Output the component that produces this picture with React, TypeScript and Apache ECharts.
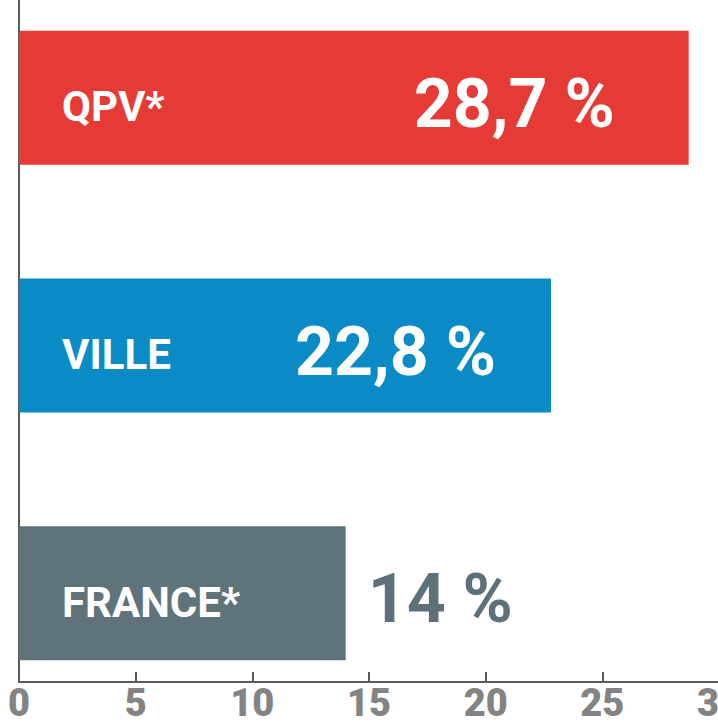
import React, { useEffect, useRef } from "react";
import * as echarts from "echarts";

const categories = ["QPV*", "VILLE", "FRANCE*"];
const values = [28.7, 22.8, 14];
const valueLabels = ["28,7 %", "22,8 %", "14 %"];
const tickValues = [0, 5, 10, 15, 20, 25, 30];

const barColors = ["#e53a36", "#0b8bc5", "#5f737a"];
const NARROW = "Roboto, 'Liberation Sans', sans-serif";

export default function App() {
  const ref = useRef<HTMLDivElement>(null);
  useEffect(() => {
    if (!ref.current) return;
    const chart = echarts.init(ref.current, undefined, { renderer: "svg" });
    const labelCfg = [
      { position: "insideRight", distance: 74, color: "#ffffff" },
      { position: "insideRight", distance: 55, color: "#ffffff" },
      { position: "right", distance: 22, color: "#5e7079" },
    ];
    const data = values.map((v, i) => ({
      value: v,
      itemStyle: { color: barColors[i] },
      label: {
        show: true,
        position: labelCfg[i].position,
        distance: labelCfg[i].distance,
        color: labelCfg[i].color,
        formatter: () => valueLabels[i],
        fontFamily: NARROW,
        fontWeight: "bold",
        fontSize: 68,
        offset: [0, 6],
      },
    }));
    chart.setOption({
      animation: false,
      grid: [
        { left: 19, right: -1, top: 0, bottom: 40, containLabel: false, outerBoundsMode: "none" },
        { left: 19, right: -1, top: -26, bottom: 5, containLabel: false, outerBoundsMode: "none" },
      ],
      xAxis: [
        {
          gridIndex: 0,
          type: "value",
          min: 0,
          max: 30,
          interval: 5,
          axisLine: { show: true, lineStyle: { color: "#5a5a5a", width: 2 } },
          axisTick: { show: true, inside: true, length: 10, lineStyle: { color: "#5a5a5a", width: 2 } },
          axisLabel: {
            show: true,
            color: "#838383",
            fontFamily: NARROW,
            fontWeight: 900,
            fontSize: 38,
            lineHeight: 30,
            margin: 6,
            formatter: (v: number) => (tickValues.includes(v) ? String(v) : ""),
          },
          splitLine: { show: false },
        },
        {
          gridIndex: 1,
          type: "value",
          min: 0,
          max: 30,
          show: false,
        },
      ],
      yAxis: [
        {
          gridIndex: 0,
          type: "value",
          min: 0,
          max: 1,
          axisLine: { show: true, lineStyle: { color: "#5a5a5a", width: 2 } },
          axisTick: { show: false },
          axisLabel: { show: false },
          splitLine: { show: false },
        },
        {
          gridIndex: 1,
          type: "category",
          data: categories,
          inverse: true,
          z: 10,
          axisLine: { show: false },
          axisTick: { show: false },
          splitLine: { show: false },
          axisLabel: {
            inside: true,
            margin: 43,
            color: "#ffffff",
            fontFamily: NARROW,
            fontWeight: "bold",
            fontSize: 42,
            align: "left",
            verticalAlign: "top",
            lineHeight: 18,
          },
        },
      ],
      series: [
        {
          type: "bar",
          xAxisIndex: 1,
          yAxisIndex: 1,
          barWidth: 134,
          data,
        },
      ],
    });
    return () => chart.dispose();
  }, []);
  return <div ref={ref} style={{ width: 718, height: 722, position: "absolute", left: 0, top: 0 }} />;
}
